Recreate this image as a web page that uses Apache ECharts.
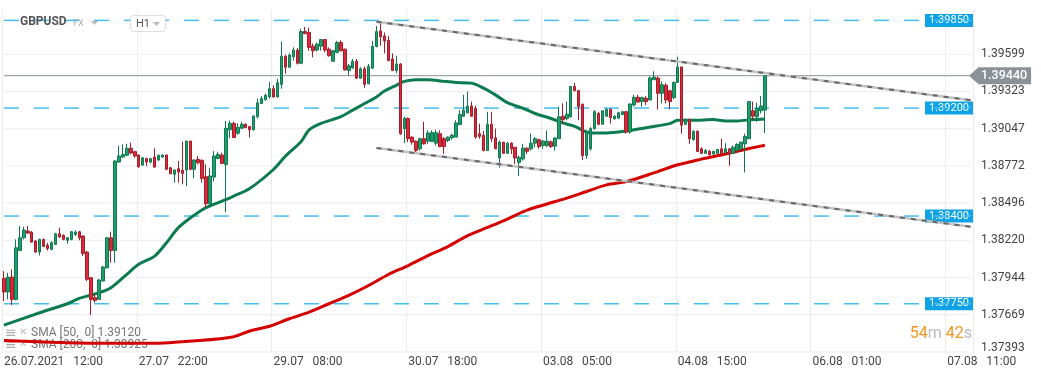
<!DOCTYPE html>
<html><head><meta charset="utf-8">
<script src="https://cdn.jsdelivr.net/npm/echarts@6/dist/echarts.min.js"></script>
<style>html,body{margin:0;padding:0;background:#fff}#c{width:1041px;height:379px}</style>
</head><body><div id="c"></div>
<script>
// [open, close, low, high]
const ohlc = [
[1.37938,1.37837,1.37770,1.37992],[1.37837,1.37948,1.37782,1.37980],[1.37948,1.37782,1.37740,1.38005],[1.37782,1.38165,1.37775,1.38227],
[1.38145,1.38239,1.38145,1.38326],[1.38239,1.38296,1.38227,1.38321],[1.38289,1.38274,1.38269,1.38326],[1.38281,1.38207,1.38202,1.38289],
[1.38215,1.38133,1.38128,1.38222],[1.38133,1.38227,1.38108,1.38232],[1.38227,1.38175,1.38170,1.38232],[1.38183,1.38160,1.38145,1.38202],
[1.38153,1.38202,1.38148,1.38215],[1.38190,1.38269,1.38185,1.38276],[1.38269,1.38244,1.38239,1.38314],[1.38257,1.38227,1.38220,1.38264],
[1.38220,1.38239,1.38195,1.38244],[1.38227,1.38284,1.38220,1.38289],[1.38264,1.38281,1.38252,1.38294],[1.38284,1.38239,1.38220,1.38289],
[1.38252,1.38123,1.38103,1.38257],[1.38133,1.37931,1.37918,1.38140],[1.37943,1.37782,1.37666,1.37948],[1.37795,1.37775,1.37758,1.37819],
[1.37782,1.37926,1.37782,1.37935],[1.37918,1.38022,1.37918,1.38030],[1.38017,1.38239,1.38010,1.38245],[1.38239,1.38145,1.38054,1.38284],
[1.38145,1.38808,1.38054,1.38813],[1.38800,1.38845,1.38795,1.38919],[1.38837,1.38857,1.38832,1.38931],[1.38850,1.38902,1.38845,1.38936],
[1.38902,1.38867,1.38857,1.38944],[1.38877,1.38845,1.38832,1.38882],[1.38852,1.38766,1.38758,1.38857],[1.38778,1.38832,1.38771,1.38835],
[1.38827,1.38800,1.38771,1.38832],[1.38800,1.38825,1.38790,1.38832],[1.38837,1.38763,1.38758,1.38902],[1.38815,1.38850,1.38808,1.38857],
[1.38837,1.38852,1.38832,1.38857],[1.38852,1.38746,1.38741,1.38857],[1.38758,1.38714,1.38709,1.38763],[1.38709,1.38741,1.38647,1.38746],
[1.38751,1.38726,1.38647,1.38808],[1.38739,1.38716,1.38635,1.38951],[1.38741,1.38956,1.38622,1.38956],[1.38956,1.38746,1.38739,1.38956],
[1.38746,1.38815,1.38679,1.38820],[1.38820,1.38795,1.38783,1.38845],[1.38813,1.38679,1.38647,1.38820],[1.38692,1.38491,1.38462,1.38783],
[1.38491,1.38697,1.38474,1.38758],[1.38689,1.38845,1.38659,1.38882],[1.38827,1.38857,1.38820,1.38877],[1.38852,1.38790,1.38788,1.38869],
[1.38782,1.39051,1.38428,1.39105],[1.39039,1.39087,1.38977,1.39107],[1.39087,1.38982,1.38977,1.39100],[1.39014,1.39058,1.39002,1.39087],
[1.39051,1.39080,1.39043,1.39100],[1.39080,1.39056,1.39051,1.39087],[1.39063,1.39039,1.38982,1.39068],[1.39039,1.39141,1.39034,1.39144],
[1.39136,1.39239,1.39124,1.39271],[1.39234,1.39271,1.39229,1.39288],[1.39263,1.39295,1.39254,1.39307],[1.39283,1.39344,1.39271,1.39393],
[1.39344,1.39283,1.39278,1.39369],[1.39283,1.39388,1.39278,1.39417],[1.39376,1.39584,1.39344,1.39694],[1.39584,1.39503,1.39454,1.39596],
[1.39503,1.39593,1.39498,1.39606],[1.39581,1.39630,1.39552,1.39650],[1.39630,1.39532,1.39523,1.39645],[1.39532,1.39767,1.39527,1.39789],
[1.39767,1.39752,1.39747,1.39801],[1.39760,1.39650,1.39625,1.39796],[1.39659,1.39625,1.39576,1.39679],[1.39630,1.39674,1.39620,1.39686],
[1.39659,1.39708,1.39625,1.39711],[1.39708,1.39630,1.39613,1.39711],[1.39637,1.39588,1.39581,1.39650],[1.39547,1.39625,1.39547,1.39630],
[1.39613,1.39686,1.39606,1.39698],[1.39686,1.39625,1.39620,1.39703],[1.39637,1.39483,1.39479,1.39640],[1.39479,1.39513,1.39442,1.39527],
[1.39498,1.39547,1.39491,1.39564],[1.39547,1.39422,1.39417,1.39564],[1.39422,1.39491,1.39417,1.39503],[1.39491,1.39376,1.39351,1.39508],
[1.39381,1.39510,1.39376,1.39527],[1.39496,1.39657,1.39491,1.39698],[1.39657,1.39767,1.39650,1.39808],[1.39772,1.39728,1.39662,1.39826],
[1.39735,1.39698,1.39606,1.39760],[1.39703,1.39552,1.39547,1.39735],[1.39564,1.39479,1.39474,1.39606],[1.39479,1.39527,1.39459,1.39588],
[1.39527,1.39010,1.39000,1.39532],[1.39048,1.39124,1.38940,1.39136],[1.39123,1.38973,1.38948,1.39130],[1.38985,1.38948,1.38930,1.38990],
[1.38955,1.38885,1.38865,1.38960],[1.38898,1.38973,1.38885,1.38980],[1.38973,1.38935,1.38930,1.39098],[1.38955,1.39015,1.38935,1.39035],
[1.38953,1.39018,1.38948,1.39035],[1.38940,1.39018,1.38923,1.39040],[1.39010,1.38915,1.38910,1.39035],[1.38973,1.38915,1.38860,1.38985],
[1.38960,1.38985,1.38948,1.38990],[1.38980,1.38998,1.38965,1.39010],[1.38985,1.39090,1.38985,1.39110],[1.39078,1.39153,1.39073,1.39185],
[1.39140,1.39185,1.39135,1.39298],[1.39165,1.39215,1.39160,1.39323],[1.39215,1.39140,1.39135,1.39248],[1.39198,1.38985,1.38973,1.39218],
[1.39010,1.38990,1.38973,1.39085],[1.38998,1.38885,1.38880,1.39030],[1.38885,1.39080,1.38885,1.39173],[1.39080,1.38973,1.38948,1.39173],
[1.38980,1.38898,1.38898,1.39048],[1.38830,1.38948,1.38760,1.38960],[1.38948,1.38865,1.38860,1.38948],[1.38865,1.38940,1.38860,1.38948],
[1.38940,1.38898,1.38860,1.38948],[1.38910,1.38830,1.38785,1.38910],[1.38798,1.38835,1.38698,1.38848],[1.38823,1.38903,1.38810,1.38935],
[1.38903,1.38880,1.38860,1.38910],[1.38898,1.38940,1.38885,1.39010],[1.38940,1.38973,1.38910,1.38985],[1.38965,1.38915,1.38898,1.38973],
[1.38923,1.38955,1.38898,1.38965],[1.38923,1.38955,1.38910,1.39035],[1.38950,1.38915,1.38905,1.38960],[1.38918,1.38978,1.38885,1.38985],
[1.38973,1.39135,1.38973,1.39210],[1.39140,1.39115,1.39085,1.39235],[1.39123,1.39155,1.39110,1.39248],[1.39135,1.39360,1.39130,1.39365],
[1.39360,1.39330,1.39323,1.39385],[1.39330,1.39210,1.39110,1.39335],[1.39228,1.38848,1.38815,1.39235],[1.38848,1.39030,1.38823,1.39035],
[1.38898,1.39048,1.38885,1.39060],[1.39048,1.39173,1.39040,1.39185],[1.39160,1.39080,1.39073,1.39173],[1.39080,1.39180,1.39080,1.39185],
[1.39140,1.39190,1.39135,1.39198],[1.39190,1.39130,1.39085,1.39198],[1.39120,1.39140,1.39115,1.39148],[1.39125,1.39165,1.39123,1.39173],
[1.39153,1.39173,1.39148,1.39180],[1.39173,1.39023,1.39010,1.39180],[1.39023,1.39230,1.39010,1.39235],[1.39223,1.39280,1.39210,1.39298],
[1.39280,1.39245,1.39240,1.39298],[1.39248,1.39278,1.39210,1.39285],[1.39273,1.39248,1.39223,1.39290],[1.39260,1.39423,1.39260,1.39435],
[1.39410,1.39430,1.39410,1.39473],[1.39423,1.39310,1.39190,1.39435],[1.39310,1.39373,1.39235,1.39398],[1.39370,1.39260,1.39235,1.39385],
[1.39328,1.39248,1.39190,1.39335],[1.39278,1.39390,1.39265,1.39398],[1.39390,1.39505,1.39385,1.39580],[1.39505,1.39073,1.39010,1.39505],
[1.39080,1.39115,1.39073,1.39123],[1.39115,1.38973,1.38935,1.39123],[1.38965,1.39028,1.38960,1.39035],[1.39028,1.38878,1.38878,1.39035],
[1.38898,1.38865,1.38860,1.38910],[1.38865,1.38885,1.38860,1.38898],[1.38880,1.38855,1.38848,1.38890],[1.38860,1.38878,1.38855,1.38885],
[1.38865,1.38893,1.38860,1.38898],[1.38898,1.38860,1.38860,1.38973],[1.38868,1.38898,1.38865,1.38940],[1.38898,1.38860,1.38773,1.38903],
[1.38865,1.38910,1.38860,1.38923],[1.38885,1.38930,1.38885,1.38940],[1.38898,1.38948,1.38885,1.38948],[1.38935,1.38990,1.38723,1.39010],
[1.38973,1.39248,1.38973,1.39248],[1.39180,1.39140,1.39110,1.39248],[1.39135,1.39198,1.39098,1.39240],[1.39180,1.39215,1.39160,1.39290],
[1.39185,1.39440,1.39015,1.39440]
];
// [bar index, value]
const sma50 = [[0,1.37592],[9,1.37683],[16,1.37750],[19,1.37790],[24,1.37832],[27,1.37869],[31,1.37968],[34,1.38042],[38,1.38103],[41,1.38202],[44,1.38314],[48,1.38407],[51,1.38462],[55,1.38510],[58,1.38548],[62,1.38604],[68,1.38745],[71,1.38843],[75,1.38953],[77,1.39039],[80,1.39087],[85,1.39136],[88,1.39185],[91,1.39234],[94,1.39283],[96,1.39327],[99,1.39369],[101,1.39398],[104,1.39410],[107,1.39410],[111,1.39398],[114,1.39390],[118,1.39385],[121,1.39348],[124,1.39298],[127,1.39240],[131,1.39198],[134,1.39160],[138,1.39123],[141,1.39090],[144,1.39065],[148,1.39015],[152,1.39015],[157,1.39030],[162,1.39055],[168,1.39085],[170,1.39110],[174,1.39110],[179,1.39115],[182,1.39105],[185,1.39105],[189,1.39115],[192,1.39120]];
const sma200 = [[0,1.37477],[12,1.37465],[24,1.37457],[37,1.37457],[49,1.37477],[58,1.37506],[62,1.37548],[67,1.37583],[72,1.37639],[77,1.37688],[82,1.37750],[87,1.37812],[92,1.37885],[97,1.37967],[102,1.38033],[107,1.38107],[112,1.38174],[117,1.38255],[122,1.38316],[127,1.38378],[132,1.38444],[137,1.38489],[142,1.38533],[147,1.38582],[152,1.38631],[157,1.38655],[164,1.38720],[170,1.38780],[176,1.38822],[182,1.38860],[188,1.38900],[192,1.38925]];
const upperTrend = [[94,1.39840],[244,1.39258]];
const lowerTrend = [[94,1.38905],[244,1.38320]];
const yTicks = [1.37393,1.37669,1.37944,1.38220,1.38496,1.38772,1.39047,1.39323,1.39599];
const levels = [1.39850,1.39200,1.38400,1.37750];
const lastPrice = 1.39440;
const xTickLabels = ['26.07.2021   12:00','27.07   22:00','29.07   08:00','30.07   18:00','03.08   05:00','04.08   15:00','06.08   01:00','07.08   11:00'];
const legendTexts = ['SMA [50,  0] 1.39120','SMA [200,  0] 1.38925'];
const timerParts = ['54','m','42','s'];
const slotCount = 245, labelStep = 34;

const slots = Array.from({length: slotCount}, (_, i) => i);
const yMin = 1.37385, yMax = 1.39927;
const FONT = 'Roboto, "DejaVu Sans", sans-serif';
const arrowSvg = 'data:image/svg+xml;charset=utf-8,' + encodeURIComponent("<svg xmlns='http://www.w3.org/2000/svg' width='9' height='16'><polygon points='0,8 9,0 9,16' fill='#8a9298'/></svg>");
const fmt = v => Number(v).toFixed(5);
const span = v => [[0, v], [slotCount - 1, v]];

const chart = echarts.init(document.getElementById('c'), null, {renderer: 'canvas'});
const baseY = {type: 'value', position: 'right', min: yMin, max: yMax, scale: true,
  splitLine: {show: false}, axisLine: {show: false}, axisTick: {show: false}};

const hLine = (v, z, lineStyle) => ({type: 'line', data: span(v), symbol: 'none', silent: true, z: z, lineStyle: lineStyle});

chart.setOption({
  animation: false,
  backgroundColor: '#fff',
  grid: {left: 2, right: 68, top: 10, bottom: 26, containLabel: false},
  xAxis: {type: 'category', data: slots, boundaryGap: true,
    axisLine: {show: false}, axisTick: {show: false},
    splitLine: {show: true, interval: (i) => i % labelStep === 0, lineStyle: {color: '#ececec', width: 1}},
    axisLabel: {interval: (i) => i % labelStep === 0, formatter: (v, i) => xTickLabels[Math.round(i / labelStep)] || '',
      align: 'left', color: '#444', fontSize: 12, fontFamily: FONT, margin: 3}},
  yAxis: [
    Object.assign({}, baseY, {axisLabel: {customValues: yTicks,
      formatter: v => Math.abs(v - yTicks[0]) < 1e-7 ? '{low|' + fmt(v) + '}' : fmt(v),
      rich: {low: {padding: [0, 0, 8, 0], color: '#444', fontSize: 12, fontFamily: FONT}},
      color: '#444', fontSize: 12, fontFamily: FONT, margin: 8}}),
    Object.assign({}, baseY, {axisLabel: {customValues: levels, inside: true, margin: 0, formatter: fmt, color: '#fff',
      backgroundColor: '#0ea2e6', padding: [1, 4, 1, 4], fontSize: 11, lineHeight: 11, fontFamily: FONT}}),
    Object.assign({}, baseY, {axisLabel: {customValues: [lastPrice], margin: -4,
      formatter: v => '{a|}{b|' + fmt(v) + '}',
      rich: {a: {width: 9, height: 16, backgroundColor: {image: arrowSvg}},
             b: {backgroundColor: '#8a9298', color: '#fff', padding: [2, 4, 2, 3], fontSize: 12.5, fontWeight: 500, lineHeight: 12, fontFamily: FONT}}}})
  ],
  series: [].concat(
    yTicks.map(v => hLine(v, 1, {color: '#ececec', width: 1})),
    levels.map(v => hLine(v, 2, {color: '#45bdf2', width: 1.5, type: [15, 15]})),
    [hLine(lastPrice, 2, {color: '#8a9096', width: 1})],
    [
    {type: 'line', name: 'SMA200', data: sma200, smooth: 0.3, showSymbol: false, symbol: 'none', z: 3,
      lineStyle: {color: '#d40000', width: 3}},
    {type: 'line', name: 'SMA50', data: sma50, smooth: 0.3, showSymbol: false, symbol: 'none', z: 3,
      lineStyle: {color: '#0c7c50', width: 3}},
    {type: 'candlestick', name: 'GBPUSD', data: ohlc, barWidth: 3, z: 4,
      itemStyle: {color: '#1f9e6d', color0: '#dd2a3b', borderColor: '#12784f', borderColor0: '#a51d2b', borderWidth: 1}},
    {type: 'line', data: upperTrend, symbol: 'none', z: 6, lineStyle: {color: '#c2c2c2', width: 2.5}},
    {type: 'line', data: upperTrend, symbol: 'none', z: 6, lineStyle: {color: '#666', width: 2, type: [5, 6]}},
    {type: 'line', data: lowerTrend, symbol: 'none', z: 6, lineStyle: {color: '#c2c2c2', width: 2.5}},
    {type: 'line', data: lowerTrend, symbol: 'none', z: 6, lineStyle: {color: '#666', width: 2, type: [5, 6]}}
  ]),
  graphic: [
    {type: 'text', x: 20, y: 22, z: 10, style: {text: 'GBPUSD', fontSize: 12, fontWeight: 'bold', fontFamily: FONT, fill: '#555', verticalAlign: 'middle'}},
    {type: 'text', x: 73, y: 24, z: 10, style: {text: 'FX', fontSize: 9, fontFamily: FONT, fill: '#aaa', verticalAlign: 'middle'}},
    {type: 'polygon', z: 10, shape: {points: [[91, 21], [98, 21], [94.5, 25]]}, style: {fill: '#bbb'}},
    {type: 'rect', z: 10, shape: {x: 130.5, y: 15.5, width: 35, height: 16, r: 3}, style: {fill: '#fff', stroke: '#ddd', lineWidth: 1}},
    {type: 'text', x: 136, y: 24, z: 11, style: {text: 'H1', fontSize: 11, fontFamily: FONT, fill: '#555', verticalAlign: 'middle'}},
    {type: 'polygon', z: 11, shape: {points: [[153, 22], [160, 22], [156.5, 26]]}, style: {fill: '#bbb'}},
    {type: 'text', x: 5, y: 333, z: 10, style: {text: '≡', fontSize: 14, fontFamily: FONT, fill: '#aaa', verticalAlign: 'middle'}},
    {type: 'text', x: 19, y: 332, z: 10, style: {text: '✕', fontSize: 10, fontWeight: 'bold', fontFamily: FONT, fill: '#bbb', verticalAlign: 'middle'}},
    {type: 'text', x: 31, y: 333, z: 10, style: {text: legendTexts[0], fontSize: 12, fontFamily: FONT, fill: '#777', verticalAlign: 'middle'}},
    {type: 'text', x: 5, y: 345, z: 2, style: {text: '≡', fontSize: 14, fontFamily: FONT, fill: '#aaa', verticalAlign: 'middle'}},
    {type: 'text', x: 19, y: 344, z: 2, style: {text: '✕', fontSize: 10, fontWeight: 'bold', fontFamily: FONT, fill: '#bbb', verticalAlign: 'middle'}},
    {type: 'text', x: 31, y: 345, z: 2, style: {text: legendTexts[1], fontSize: 12, fontFamily: FONT, fill: '#777', verticalAlign: 'middle'}},
    {type: 'text', x: 972, y: 334, z: 10, style: {
      text: '{o|' + timerParts[0] + '}{g|' + timerParts[1] + '} {o|' + timerParts[2] + '}{g|' + timerParts[3] + '}',
      align: 'right', verticalAlign: 'middle', fontSize: 16, fontFamily: FONT,
      rich: {o: {fill: '#f7941d', fontSize: 16, fontFamily: FONT}, g: {fill: '#bbb', fontSize: 16, fontFamily: FONT}}}}
  ]
});
</script>
</body></html>
